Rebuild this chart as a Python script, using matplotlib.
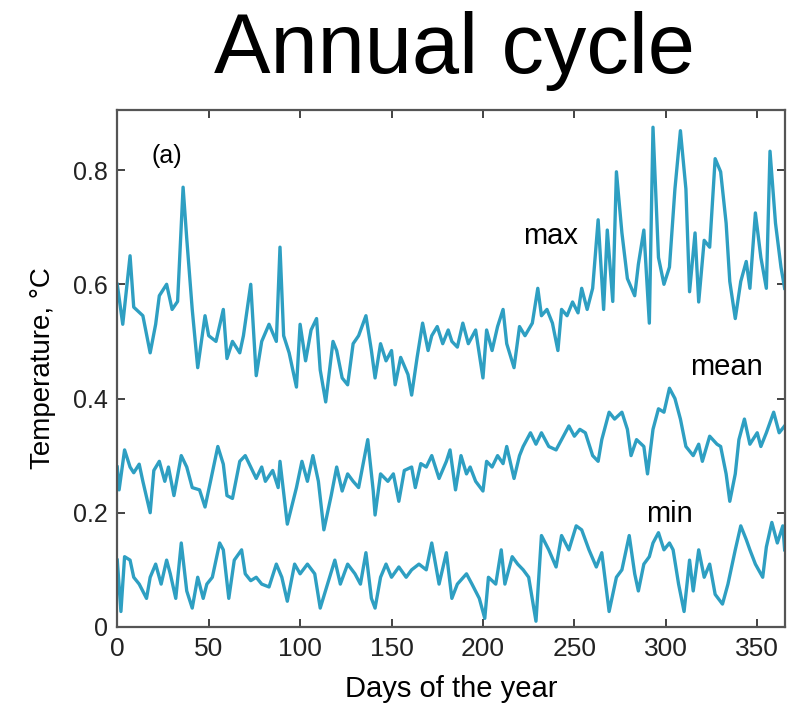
import matplotlib
matplotlib.use("Agg")
import matplotlib.pyplot as plt

# daily temperature curves
days_max = [0, 3, 7, 9, 14, 18, 21, 23, 27, 30,
            33, 36, 38, 41, 44, 48, 50, 54, 58, 60,
            63, 67, 69, 73, 76, 79, 83, 87, 89, 91,
            94, 98, 100, 103, 106, 109, 111, 114, 118, 120,
            123, 126, 129, 132, 136, 139, 141, 144, 147, 150,
            152, 155, 159, 161, 164, 167, 170, 172, 175, 178,
            181, 183, 186, 189, 192, 196, 200, 202, 205, 208,
            211, 213, 217, 220, 223, 227, 230, 232, 235, 238,
            241, 243, 246, 249, 252, 254, 257, 260, 263, 266,
            268, 271, 273, 276, 279, 283, 285, 288, 291, 293,
            296, 299, 302, 305, 308, 311, 313, 316, 318, 321,
            324, 327, 330, 333, 335, 338, 341, 344, 346, 349,
            352, 355, 357, 360, 363, 365]
t_max = [0.60, 0.53, 0.65, 0.56, 0.545, 0.48, 0.53, 0.58, 0.60, 0.556,
         0.57, 0.77, 0.68, 0.556, 0.454, 0.545, 0.51, 0.50, 0.556, 0.47,
         0.50, 0.48, 0.51, 0.60, 0.44, 0.50, 0.53, 0.50, 0.665, 0.51,
         0.48, 0.42, 0.53, 0.466, 0.52, 0.54, 0.45, 0.394, 0.50, 0.484,
         0.436, 0.424, 0.496, 0.51, 0.545, 0.484, 0.436, 0.496, 0.466, 0.484,
         0.424, 0.472, 0.442, 0.406, 0.472, 0.532, 0.484, 0.51, 0.526, 0.496,
         0.52, 0.50, 0.49, 0.532, 0.496, 0.52, 0.436, 0.52, 0.484, 0.526,
         0.556, 0.496, 0.454, 0.526, 0.51, 0.532, 0.593, 0.545, 0.556, 0.532,
         0.484, 0.556, 0.545, 0.569, 0.55, 0.593, 0.556, 0.593, 0.713, 0.556,
         0.695, 0.57, 0.797, 0.69, 0.61, 0.58, 0.635, 0.695, 0.532, 0.875,
         0.647, 0.60, 0.63, 0.767, 0.869, 0.767, 0.587, 0.69, 0.569, 0.677,
         0.665, 0.82, 0.797, 0.707, 0.605, 0.54, 0.605, 0.64, 0.593, 0.725,
         0.647, 0.593, 0.833, 0.707, 0.63, 0.593]

days_mean = [0, 1, 4, 7, 9, 12, 14, 18, 20, 23,
             26, 28, 31, 35, 38, 41, 45, 48, 51, 55,
             58, 60, 63, 67, 70, 73, 76, 79, 81, 85,
             88, 89, 93, 98, 101, 104, 107, 110, 113, 117,
             120, 123, 126, 129, 132, 137, 140, 141, 144, 148,
             151, 154, 157, 161, 163, 166, 169, 172, 176, 180,
             182, 185, 188, 191, 193, 196, 200, 202, 205, 208,
             211, 213, 217, 220, 222, 226, 229, 232, 236, 240,
             243, 247, 250, 253, 256, 260, 263, 265, 269, 272,
             276, 279, 281, 284, 288, 290, 293, 296, 299, 302,
             305, 308, 311, 315, 318, 320, 324, 328, 330, 333,
             335, 338, 340, 343, 346, 350, 352, 355, 359, 362,
             365]
t_mean = [0.28, 0.24, 0.31, 0.28, 0.27, 0.285, 0.255, 0.20, 0.274, 0.29,
          0.255, 0.28, 0.23, 0.30, 0.28, 0.244, 0.24, 0.21, 0.255, 0.316,
          0.285, 0.23, 0.225, 0.29, 0.30, 0.28, 0.26, 0.28, 0.255, 0.274,
          0.244, 0.29, 0.18, 0.244, 0.29, 0.255, 0.30, 0.255, 0.17, 0.23,
          0.28, 0.238, 0.268, 0.255, 0.244, 0.328, 0.238, 0.196, 0.268, 0.255,
          0.268, 0.22, 0.274, 0.28, 0.244, 0.286, 0.28, 0.30, 0.26, 0.29,
          0.31, 0.24, 0.30, 0.268, 0.28, 0.255, 0.238, 0.29, 0.28, 0.30,
          0.286, 0.316, 0.26, 0.30, 0.316, 0.34, 0.32, 0.34, 0.316, 0.31,
          0.328, 0.352, 0.334, 0.346, 0.34, 0.30, 0.29, 0.328, 0.376, 0.364,
          0.376, 0.346, 0.30, 0.328, 0.316, 0.268, 0.346, 0.382, 0.376, 0.418,
          0.40, 0.364, 0.316, 0.30, 0.32, 0.29, 0.334, 0.32, 0.316, 0.268,
          0.22, 0.268, 0.328, 0.364, 0.32, 0.34, 0.316, 0.34, 0.376, 0.34,
          0.352]

days_min = [0, 2, 4, 7, 9, 12, 16, 18, 21, 24,
            27, 29, 32, 35, 38, 41, 44, 47, 49, 52,
            56, 58, 61, 64, 68, 70, 73, 76, 79, 83,
            87, 90, 93, 97, 100, 104, 108, 111, 115, 119,
            122, 126, 130, 133, 136, 139, 141, 144, 147, 150,
            154, 158, 161, 165, 169, 172, 176, 180, 183, 186,
            191, 194, 198, 201, 203, 207, 210, 212, 216, 219,
            222, 225, 229, 232, 236, 240, 243, 247, 251, 254,
            258, 262, 265, 269, 273, 276, 280, 283, 285, 288,
            291, 293, 296, 299, 302, 304, 307, 310, 313, 315,
            318, 321, 324, 327, 331, 334, 338, 341, 344, 346,
            349, 353, 355, 358, 361, 364, 365]
t_min = [0.117, 0.027, 0.123, 0.117, 0.087, 0.075, 0.05, 0.087, 0.11, 0.075,
         0.117, 0.093, 0.05, 0.147, 0.063, 0.033, 0.087, 0.05, 0.075, 0.087,
         0.147, 0.135, 0.05, 0.117, 0.135, 0.093, 0.081, 0.087, 0.075, 0.07,
         0.11, 0.087, 0.045, 0.11, 0.093, 0.11, 0.093, 0.033, 0.075, 0.117,
         0.075, 0.11, 0.093, 0.075, 0.13, 0.05, 0.033, 0.087, 0.11, 0.087,
         0.105, 0.087, 0.10, 0.11, 0.10, 0.147, 0.075, 0.13, 0.05, 0.075,
         0.093, 0.075, 0.05, 0.015, 0.087, 0.075, 0.135, 0.075, 0.123, 0.11,
         0.10, 0.087, 0.01, 0.16, 0.135, 0.105, 0.16, 0.135, 0.177, 0.17,
         0.135, 0.105, 0.13, 0.027, 0.087, 0.10, 0.16, 0.093, 0.063, 0.11,
         0.123, 0.147, 0.165, 0.135, 0.147, 0.135, 0.075, 0.027, 0.117, 0.063,
         0.135, 0.087, 0.11, 0.057, 0.04, 0.075, 0.135, 0.177, 0.153, 0.135,
         0.11, 0.087, 0.14, 0.183, 0.147, 0.177, 0.135]

x_ticks = [0, 50, 100, 150, 200, 250, 300, 350]
y_ticks = [0, 0.2, 0.4, 0.6, 0.8]
y_tick_labels = ['0', '0.2', '0.4', '0.6', '0.8']

line_col = '#2e9fc2'

plt.rcParams['font.family'] = ['Liberation Sans', 'DejaVu Sans']

fig = plt.figure(figsize=(7.87, 7.06), dpi=100)
ax = fig.add_axes([0.149, 0.112, 0.848, 0.732])

for d, t in [(days_max, t_max), (days_mean, t_mean), (days_min, t_min)]:
    ax.plot(d, t, color=line_col, linewidth=2.4, solid_joinstyle='round')

ax.set_xlim(0, 365)
ax.set_ylim(0, 0.905)
ax.set_xticks(x_ticks)
ax.set_yticks(y_ticks)
ax.set_yticklabels(y_tick_labels)
ax.tick_params(direction='in', length=6, width=1.2, top=True, right=True,
               colors='#222222')
ax.tick_params(axis='x', labelsize=19, pad=7)
ax.tick_params(axis='y', labelsize=18, pad=7)
for s in ax.spines.values():
    s.set_color('#555555')
    s.set_linewidth(1.6)

ax.set_xlabel('Days of the year', fontsize=21, labelpad=10)
ax.set_ylabel('Temperature, °C', fontsize=20, labelpad=12)

# curve labels
ax.text(27, 0.825, '(a)', fontsize=18, ha='center', va='center')
ax.text(237, 0.685, 'max', fontsize=21, ha='center', va='center')
ax.text(333, 0.455, 'mean', fontsize=21, ha='center', va='center')
ax.text(302, 0.197, 'min', fontsize=21, ha='center', va='center')

fig.text(0.577, 0.928, 'Annual cycle', fontsize=61, ha='center', va='center')

fig.savefig('out.png', dpi=100)
